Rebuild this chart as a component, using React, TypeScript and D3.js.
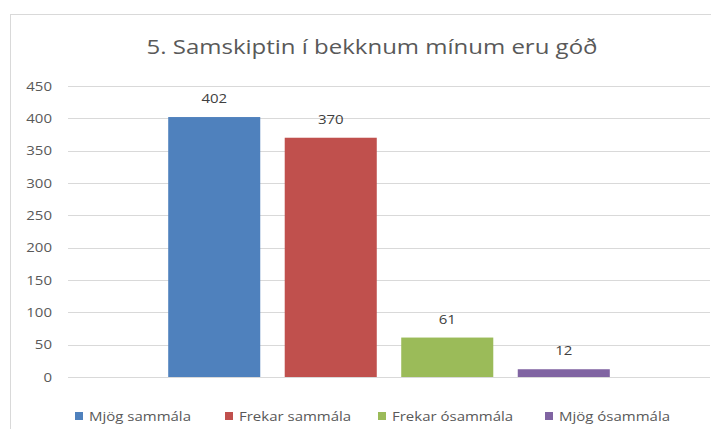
import * as d3 from "d3";
import { useEffect, useRef } from "react";

const title = "5. Samskiptin í bekknum mínum eru góð";
const seriesNames = ["Mjög sammála", "Frekar sammála", "Frekar ósammála", "Mjög ósammála"];
const seriesValues = [402, 370, 61, 12];
const seriesColors = ["#4f81bd", "#c0504d", "#9bbb59", "#8064a2"];
const yTicks = [0, 50, 100, 150, 200, 250, 300, 350, 400, 450];

const App = () => {
    const ref = useRef<SVGSVGElement>(null);

    useEffect(() => {
        const svg = d3.select(ref.current);
        svg.selectAll("*").remove();
        const width = 719;
        const height = 437;
        const plot = { left: 68, right: 710, top: 86, bottom: 377 };
        const font = "'Open Sans', sans-serif";
        const textColor = "#595959";
        const stretch = 1.2; // the picture's text is wider than Open Sans

        svg.attr("width", width).attr("height", height);

        svg.append("rect")
            .attr("width", width).attr("height", height)
            .attr("fill", "#fff");

        // chart frame
        svg.append("rect")
            .attr("x", 10.5).attr("y", 14.5)
            .attr("width", width + 20).attr("height", height + 20)
            .attr("fill", "#fff")
            .attr("stroke", "#d9d9d9");

        svg.append("text")
            .attr("transform", `translate(372, 54) scale(${stretch}, 1)`)
            .attr("text-anchor", "middle")
            .attr("font-family", font)
            .attr("font-size", 20)
            .attr("fill", textColor)
            .text(title);

        const y = d3.scaleLinear().domain([0, 450]).range([plot.bottom, plot.top]);
        const x = d3.scaleBand<string>()
            .domain(seriesNames)
            .range([plot.left, plot.right])
            .paddingInner(0.21)
            .paddingOuter(0.86);

        // gridlines
        svg.append("g")
            .selectAll("line")
            .data(yTicks)
            .join("line")
            .attr("x1", plot.left).attr("x2", plot.right)
            .attr("y1", d => Math.round(y(d)) + 0.5)
            .attr("y2", d => Math.round(y(d)) + 0.5)
            .attr("stroke", "#d9d9d9");

        // y tick labels
        svg.append("g")
            .selectAll("text")
            .data(yTicks)
            .join("text")
            .attr("transform", d => `translate(52, ${y(d) + 4.5}) scale(${stretch}, 1)`)
            .attr("text-anchor", "end")
            .attr("font-family", font)
            .attr("font-size", 12.5)
            .attr("fill", textColor)
            .text(d => d);

        // bars
        svg.append("g")
            .selectAll("rect")
            .data(seriesValues)
            .join("rect")
            .attr("x", (d, i) => x(seriesNames[i])!)
            .attr("y", d => y(d))
            .attr("width", x.bandwidth())
            .attr("height", d => y(0) - y(d))
            .attr("fill", (d, i) => seriesColors[i]);

        // value labels
        svg.append("g")
            .selectAll("text")
            .data(seriesValues)
            .join("text")
            .attr("transform", (d, i) =>
                `translate(${x(seriesNames[i])! + x.bandwidth() / 2}, ${y(d) - 14}) scale(${stretch}, 1)`)
            .attr("text-anchor", "middle")
            .attr("font-family", font)
            .attr("font-size", 12.5)
            .attr("fill", "#404040")
            .text(d => d);

        // legend
        const legendX = [75, 225, 378, 545];
        const legend = svg.append("g")
            .selectAll("g")
            .data(seriesNames)
            .join("g")
            .attr("transform", (d, i) => `translate(${legendX[i]}, 416)`);
        legend.append("rect")
            .attr("x", 0).attr("y", -4)
            .attr("width", 8).attr("height", 8)
            .attr("fill", (d, i) => seriesColors[i]);
        legend.append("text")
            .attr("transform", `translate(14, 4.5) scale(${stretch}, 1)`)
            .attr("font-family", font)
            .attr("font-size", 12.5)
            .attr("fill", textColor)
            .text(d => d);
    }, []);

    return <svg ref={ref} style={{ display: "block", margin: -8 }} />;
};

export default App;
